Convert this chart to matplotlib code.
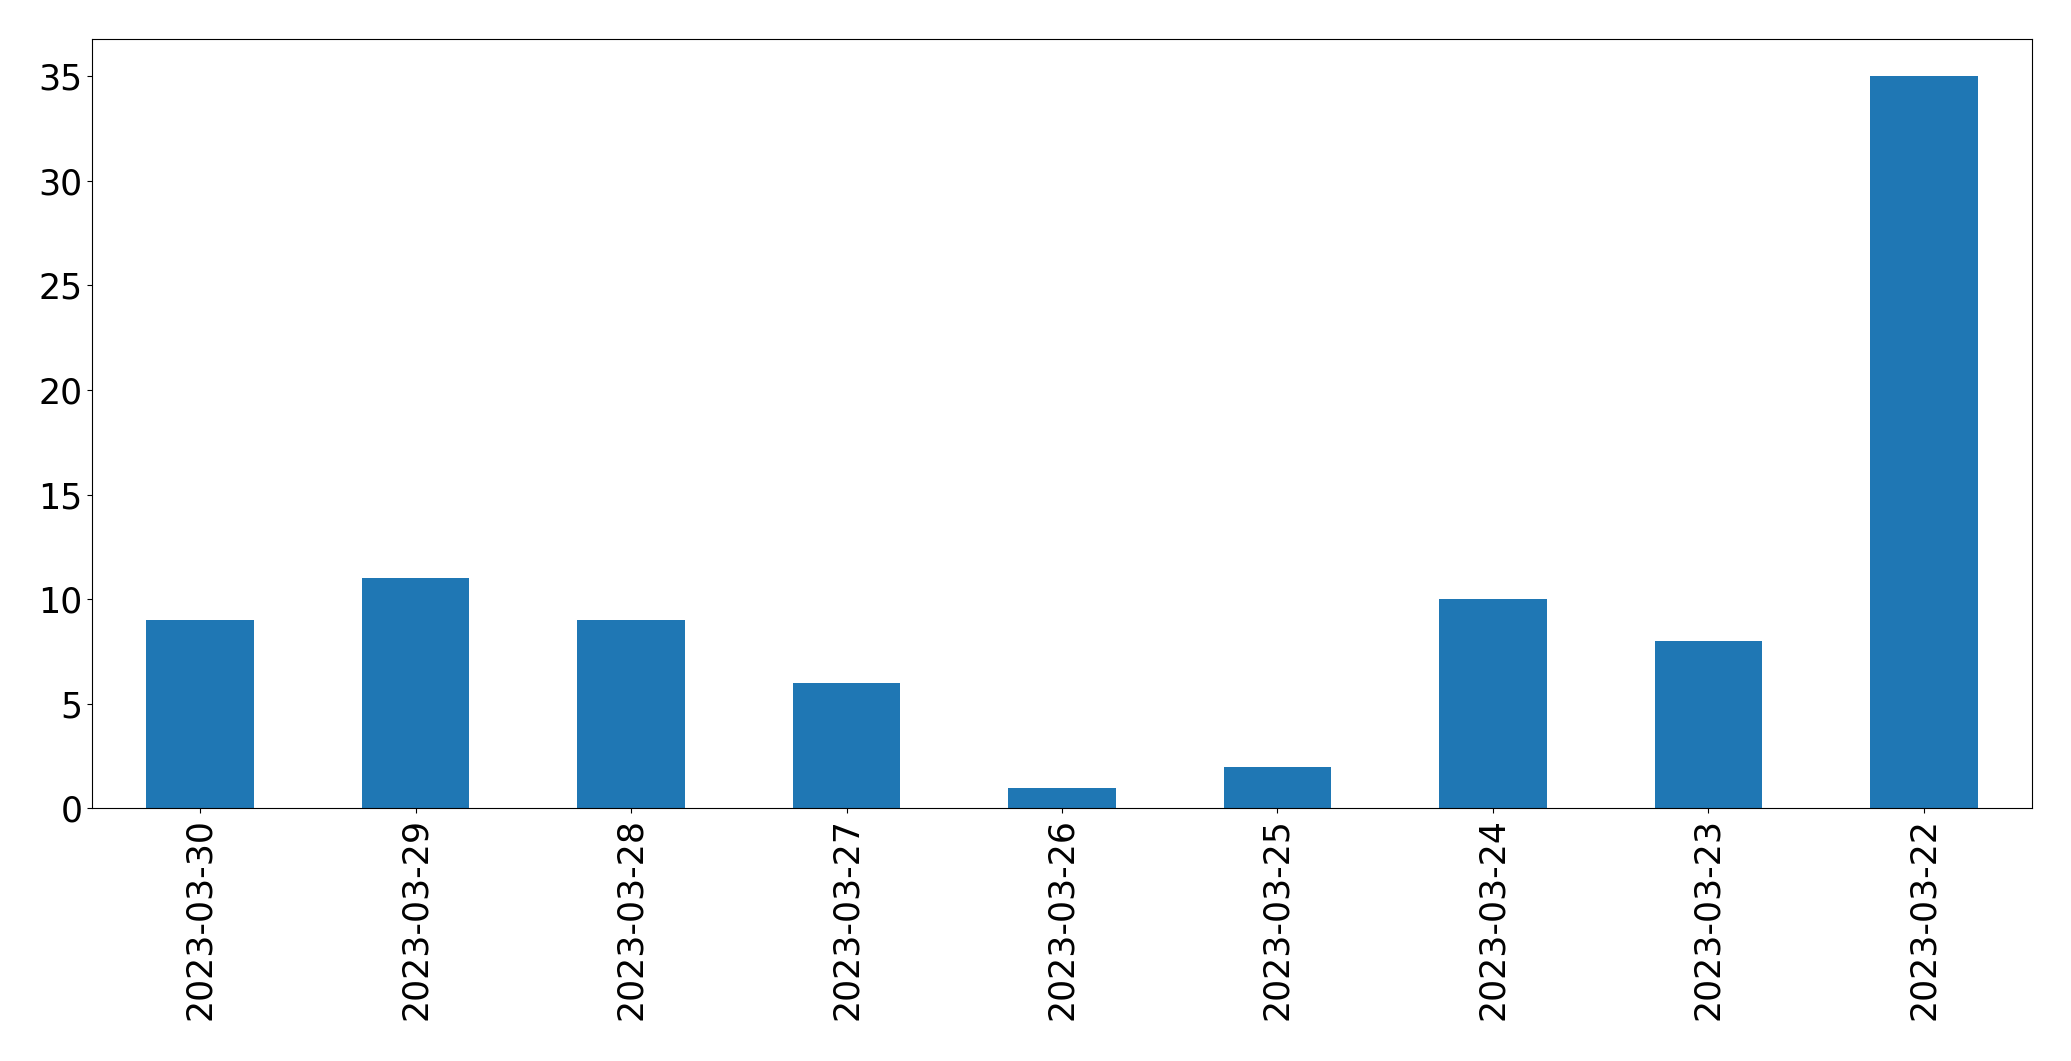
import matplotlib.pyplot as plt
import numpy as np

# daily counts, newest first
dates = ["2023-03-30", "2023-03-29", "2023-03-28", "2023-03-27", "2023-03-26",
         "2023-03-25", "2023-03-24", "2023-03-23", "2023-03-22"]
counts = [9, 11, 9, 6, 1, 2, 10, 8, 35]

fig, ax = plt.subplots(figsize=(20.71, 10.61), dpi=100)
x = np.arange(len(dates))
ax.bar(x, counts, width=0.5, color="#1f77b4")
ax.set_xticks(x)
ax.set_xticklabels(dates, rotation=90)
ax.set_xlim(-0.5, len(dates) - 0.5)
ax.tick_params(labelsize=25)
fig.subplots_adjust(left=0.0446, right=0.981, top=0.963, bottom=0.238)
plt.savefig("out.png")
